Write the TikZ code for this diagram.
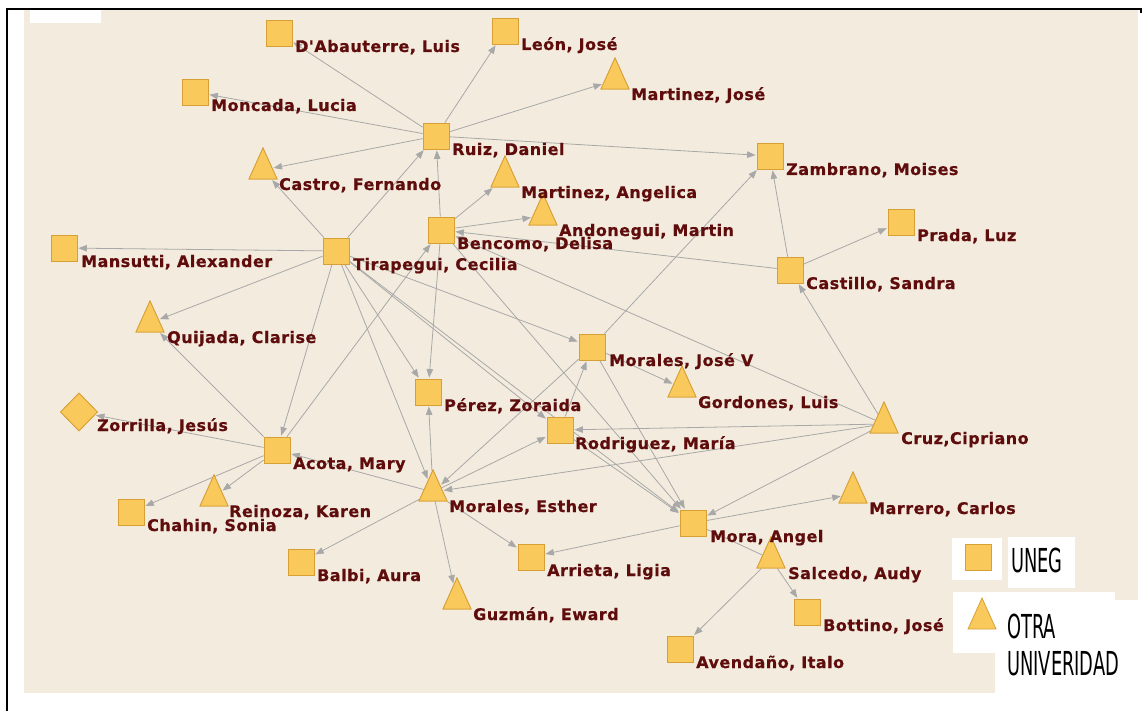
\documentclass[tikz,border=0pt]{standalone}
\usepackage{fontspec}
\setmainfont{DejaVu Sans}
\newfontfamily\labfont[LetterSpace=3,FakeBold=0.6]{DejaVu Sans Bold}
\newfontfamily\legfont[FakeStretch=0.54]{DejaVu Sans}
\usetikzlibrary{shapes.geometric,arrows.meta,calc}
\definecolor{bg}{RGB}{243,236,222}
\definecolor{nodefill}{RGB}{250,201,92}
\definecolor{nodeline}{RGB}{215,160,55}
\definecolor{edgec}{RGB}{168,168,168}
\definecolor{labc}{RGB}{95,12,12}
\begin{document}
\begin{tikzpicture}[x=1pt,y=-1pt,
 sq/.style={rectangle,draw=nodeline,fill=nodefill,minimum size=26pt,inner sep=0pt,line width=0.8pt},
 tri/.style={isosceles triangle,isosceles triangle stretches,shape border rotate=90,draw=nodeline,fill=nodefill,minimum width=28pt,minimum height=31pt,inner sep=0pt,line width=0.8pt},
 dia/.style={diamond,draw=nodeline,fill=nodefill,minimum width=37pt,minimum height=38pt,inner sep=0pt,line width=0.8pt},
 lab/.style={anchor=base west,text=labc,font=\labfont\fontsize{16}{18}\selectfont,inner sep=0pt},
 leg/.style={anchor=base west,text=black,font=\legfont\fontsize{33}{36}\selectfont,inner sep=0pt},
 arr/.style={draw=edgec,line width=0.8pt,-{Triangle[length=8.5pt,width=6.5pt]},shorten >=1pt},
 ln/.style={draw=edgec,line width=0.8pt},
]
\useasboundingbox (0,0) rectangle (1142,711);
% background
\fill[white] (0,0) rectangle (1142,711);
\fill[bg] (24,10) rectangle (1138,693);
\fill[white] (30,10) rectangle (101,23);
\fill[white] (952,538) rectangle (1002,580);
\fill[white] (1008,537) rectangle (1075,588);
\fill[white] (953,592) rectangle (1115,653);
\fill[white] (995,600) rectangle (1138,693);
\draw[line width=2pt] (7,711) -- (7,9) -- (1141,9) -- (1141,13);

% nodes
\node[sq] (DAb) at (279,33) {};
\node[sq] (Leon) at (505,31) {};
\node[sq] (Moncada) at (195,92) {};
\node[sq] (Ruiz) at (436,136) {};
\node[sq] (Zambrano) at (770,156) {};
\node[sq] (Prada) at (901,222) {};
\node[sq] (Bencomo) at (441,230) {};
\node[sq] (Mansutti) at (64,248) {};
\node[sq] (Tirapegui) at (336,251) {};
\node[sq] (Castillo) at (790,270) {};
\node[sq] (MJoseV) at (592,347) {};
\node[sq] (Perez) at (428,392) {};
\node[sq] (Rodriguez) at (560,430) {};
\node[sq] (Acota) at (277,450) {};
\node[sq] (Chahin) at (131,512) {};
\node[sq] (Mora) at (693,523) {};
\node[sq] (Arrieta) at (531,557) {};
\node[sq] (Balbi) at (301,562) {};
\node[sq] (Bottino) at (807,612) {};
\node[sq] (Avendano) at (680,649) {};
\node[tri] (MJose) at (615,80) {};
\node[tri] (Castro) at (263,170) {};
\node[tri] (MAngelica) at (505,178) {};
\node[tri] (Andonegui) at (543,216) {};
\node[tri] (Quijada) at (150,323) {};
\node[tri] (Gordones) at (682,388) {};
\node[tri] (Cruz) at (884,424) {};
\node[tri] (MEsther) at (433,492) {};
\node[tri] (Reinoza) at (214,497) {};
\node[tri] (Marrero) at (853,494) {};
\node[tri] (Salcedo) at (771,559) {};
\node[tri] (Guzman) at (457,600) {};
\node[dia] (Zorrilla) at (79,412) {};

% edges
\draw[arr] (Ruiz) -- (DAb);
\draw[arr] (Ruiz) -- (Leon);
\draw[arr] (Ruiz) -- (MJose);
\draw[arr] (Ruiz) -- (Moncada);
\draw[arr] (Ruiz) -- (Castro);
\draw[arr] (Ruiz) -- (Zambrano);
\draw[arr] (Tirapegui) -- (Ruiz);
\draw[arr] (Tirapegui) -- (Castro);
\draw[arr] (Tirapegui) -- (Mansutti);
\draw[arr] (Tirapegui) -- (Quijada);
\draw[arr] (Tirapegui) -- (Acota);
\draw[arr] (Tirapegui) -- (Perez);
\draw[arr] (Tirapegui) -- (MEsther);
\draw[arr] (Tirapegui) -- (Rodriguez);
\draw[arr] (Tirapegui) -- (MJoseV);
\draw[arr] (Tirapegui) -- (Mora);
\draw[arr] (Bencomo) -- (Ruiz);
\draw[arr] (Bencomo) -- (MAngelica);
\draw[arr] (Bencomo) -- (Andonegui);
\draw[arr] (Bencomo) -- (Perez);
\draw[arr] (Bencomo) -- (Mora);
\draw[arr] (Castillo) -- (Bencomo);
\draw[arr] (Acota) -- (Bencomo);
\draw[arr] (Cruz) -- (Bencomo);
\draw[arr] (MJoseV) -- (Zambrano);
\draw[arr] (Castillo) -- (Zambrano);
\draw[arr] (Castillo) -- (Prada);
\draw[arr] (Cruz) -- (Castillo);
\draw[arr] (Cruz) -- (Rodriguez);
\draw[arr] (Cruz) -- (MEsther);
\draw[arr] (Cruz) -- (Mora);
\draw[arr] (MJoseV) -- (Gordones);
\draw[arr] (MJoseV) -- (Mora);
\draw[arr] (MJoseV) -- (MEsther);
\draw[arr] (Rodriguez) -- (MJoseV);
\draw[arr] (Rodriguez) -- (Mora);
\draw[arr] (MEsther) -- (Rodriguez);
\draw[arr] (MEsther) -- (Perez);
\draw[arr] (MEsther) -- (Guzman);
\draw[arr] (MEsther) -- (Arrieta);
\draw[arr] (MEsther) -- (Balbi);
\draw[arr] (MEsther) -- (Acota);
\draw[arr] (Acota) -- (Zorrilla);
\draw[arr] (Acota) -- (Quijada);
\draw[arr] (Acota) -- (Chahin);
\draw[arr] (Acota) -- (Reinoza);
\draw[arr] (Mora) -- (Arrieta);
\draw[arr] (Mora) -- (Marrero);
\draw[ln] (Mora) -- (Salcedo);
\draw[arr] (Salcedo) -- (Bottino);
\draw[arr] (Salcedo) -- (Avendano);

% redraw nodes on top of the connectors
\foreach \n in {DAb,Leon,Moncada,Ruiz,Zambrano,Prada,Bencomo,Mansutti,Tirapegui,Castillo,MJoseV,Perez,Rodriguez,Acota,Chahin,Mora,Arrieta,Balbi,Bottino,Avendano}
  \node[sq] at (\n) {};
\foreach \n in {MJose,Castro,MAngelica,Andonegui,Quijada,Gordones,Cruz,MEsther,Reinoza,Marrero,Salcedo,Guzman}
  \node[tri] at (\n.center) {};
\node[dia] at (Zorrilla) {};

% labels
\node[lab] (lDAb) at ($(DAb)+(16,19)$) {D'Abauterre, Luis};
\node[lab] (lLeon) at ($(Leon)+(16,19)$) {León, José};
\node[lab] (lMoncada) at ($(Moncada)+(16,19)$) {Moncada, Lucia};
\node[lab] (lRuiz) at ($(Ruiz)+(16,19)$) {Ruiz, Daniel};
\node[lab] (lZambrano) at ($(Zambrano)+(16,19)$) {Zambrano, Moises};
\node[lab] (lPrada) at ($(Prada)+(16,19)$) {Prada, Luz};
\node[lab] (lBencomo) at ($(Bencomo)+(16,19)$) {Bencomo, Delisa};
\node[lab] (lMansutti) at ($(Mansutti)+(17,19)$) {Mansutti, Alexander};
\node[lab] (lTirapegui) at ($(Tirapegui)+(17,19)$) {Tirapegui, Cecilia};
\node[lab] (lCastillo) at ($(Castillo)+(16,19)$) {Castillo, Sandra};
\node[lab] (lMJoseV) at ($(MJoseV)+(17,19)$) {Morales, José V};
\node[lab] (lPerez) at ($(Perez)+(16,19)$) {Pérez, Zoraida};
\node[lab] (lRodriguez) at ($(Rodriguez)+(15,19)$) {Rodriguez, María};
\node[lab] (lAcota) at ($(Acota)+(16,19)$) {Acota, Mary};
\node[lab] (lChahin) at ($(Chahin)+(16,19)$) {Chahin, Sonia};
\node[lab] (lMora) at ($(Mora)+(17,19)$) {Mora, Angel};
\node[lab] (lArrieta) at ($(Arrieta)+(16,19)$) {Arrieta, Ligia};
\node[lab] (lBalbi) at ($(Balbi)+(16,19)$) {Balbi, Aura};
\node[lab] (lBottino) at ($(Bottino)+(16,19)$) {Bottino, José};
\node[lab] (lAvendano) at ($(Avendano)+(16,19)$) {Avendaño, Italo};
\node[lab] (lMJose) at ($(MJose)+(16,20)$) {Martinez, José};
\node[lab] (lCastro) at ($(Castro)+(16,20)$) {Castro, Fernando};
\node[lab] (lMAngelica) at ($(MAngelica)+(16,20)$) {Martinez, Angelica};
\node[lab] (lAndonegui) at ($(Andonegui)+(16,20)$) {Andonegui, Martin};
\node[lab] (lQuijada) at ($(Quijada)+(17,20)$) {Quijada, Clarise};
\node[lab] (lGordones) at ($(Gordones)+(16,20)$) {Gordones, Luis};
\node[lab] (lCruz) at ($(Cruz)+(17,20)$) {Cruz,Cipriano};
\node[lab] (lMEsther) at ($(MEsther)+(16,20)$) {Morales, Esther};
\node[lab] (lReinoza) at ($(Reinoza)+(15,20)$) {Reinoza, Karen};
\node[lab] (lMarrero) at ($(Marrero)+(16,20)$) {Marrero, Carlos};
\node[lab] (lSalcedo) at ($(Salcedo)+(17,20)$) {Salcedo, Audy};
\node[lab] (lGuzman) at ($(Guzman)+(16,20)$) {Guzmán, Eward};
\node[lab] (lZorrilla) at ($(Zorrilla)+(18,19)$) {Zorrilla, Jesús};

% legend
\node[sq] (legSq) at (978,557) {};
\node[tri] (legTri) at (982,620) {};
\node[leg] (legU) at (1011,572) {UNEG};
\node[leg] (legO) at (1007,638) {OTRA};
\node[leg] (legO2) at (1007,675) {UNIVERIDAD};
\end{tikzpicture}
\end{document}
